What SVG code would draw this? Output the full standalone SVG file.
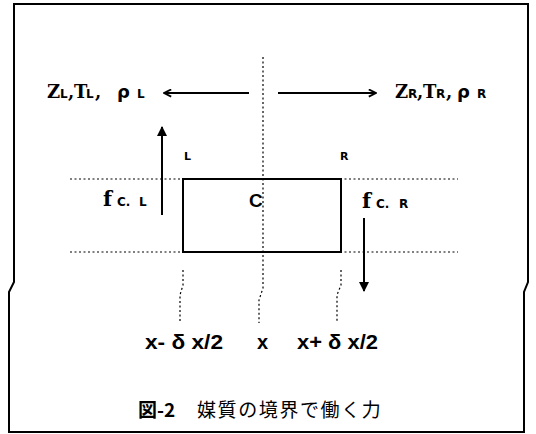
<svg xmlns="http://www.w3.org/2000/svg" width="536" height="434" viewBox="0 0 536 434">
<style>
.frame{fill:none;stroke:#000;stroke-width:2}
.dot{fill:none;stroke:#000;stroke-width:1.2;stroke-dasharray:2 2.5}
.solid{fill:none;stroke:#000;stroke-width:2}
.serif{font-family:"DejaVu Serif","Liberation Serif",serif;font-weight:bold;fill:#000}
.sub{font-family:"DejaVu Sans","Liberation Sans",sans-serif;font-weight:bold;fill:#000}
.sans{font-family:"Liberation Sans",Arial,sans-serif;font-weight:bold;fill:#000}
.greek{font-family:"DejaVu Sans",sans-serif;font-weight:bold;fill:#000}
.cap{font-family:"Noto Sans CJK JP","Noto Sans",sans-serif;fill:#000}
</style>
<defs>
<marker id="open" viewBox="0 0 10 10" refX="9" refY="5" markerWidth="9" markerHeight="9" markerUnits="userSpaceOnUse" orient="auto">
<path d="M1,1 L9,5 L1,9" fill="none" stroke="#000" stroke-width="2"/>
</marker>
<marker id="solidhead" viewBox="0 0 10 10" refX="9" refY="5" markerWidth="10" markerHeight="10" markerUnits="userSpaceOnUse" orient="auto">
<path d="M0,0 L10,5 L0,10 Z" fill="#000"/>
</marker>
</defs>
<path class="frame" d="M14,4 H528 V282 L524,292 V432 H9 V292 L14,282 Z"/>
<g id="connectors">
<line class="solid" x1="249" y1="93" x2="164" y2="93" marker-end="url(#open)"/>
<line class="solid" x1="278" y1="93" x2="376" y2="93" marker-end="url(#open)"/>
<line class="solid" x1="162" y1="215" x2="162" y2="127" marker-end="url(#solidhead)"/>
<line class="solid" x1="364" y1="218" x2="364" y2="291" marker-end="url(#solidhead)"/>
<path class="dot" d="M263,57 V288 L259,300 V323"/>
<line class="dot" x1="70" y1="179" x2="458" y2="179"/>
<line class="dot" x1="70" y1="252" x2="458" y2="252"/>
<path class="dot" d="M183,270 V285 L180,295 V323"/>
<path class="dot" d="M341,270 V285 L337,295 V323"/>
</g>
<g id="cell">
<rect class="solid" x="183" y="179" width="158" height="73" stroke-width="1.6"/>
<text x="249" y="207" font-size="19" font-family="Liberation Sans Narrow,Liberation Sans,sans-serif" font-weight="bold" fill="#000">C</text>
<text class="sub" x="184" y="160" font-size="11">L</text>
<text class="sub" x="340" y="160" font-size="11">R</text>
</g>
<g id="left-medium">
<text class="serif" y="98" font-size="18"><tspan x="47">Z</tspan><tspan class="sub" x="60" font-size="12">L</tspan><tspan x="68">,</tspan><tspan x="74">T</tspan><tspan class="sub" x="86" font-size="12">L</tspan><tspan x="95">,</tspan></text>
<text class="greek" x="117" y="98" font-size="18">ρ</text>
<text class="sub" x="137" y="98" font-size="12">L</text>
</g>
<g id="right-medium">
<text class="serif" y="98" font-size="18"><tspan x="395">Z</tspan><tspan class="sub" x="408" font-size="12">R</tspan><tspan x="417">,</tspan><tspan x="423">T</tspan><tspan class="sub" x="436" font-size="12">R</tspan><tspan x="446">,</tspan></text>
<text class="greek" x="457" y="98" font-size="18">ρ</text>
<text class="sub" x="477" y="98" font-size="12">R</text>
</g>
<g id="force-left">
<text class="serif" x="103" y="206" font-size="21">f</text>
<text class="sub" y="206" font-size="12"><tspan x="117">C.</tspan><tspan x="139">L</tspan></text>
</g>
<g id="force-right">
<text class="serif" x="362" y="208" font-size="21">f</text>
<text class="sub" y="208" font-size="12"><tspan x="376">C.</tspan><tspan x="399">R</tspan></text>
</g>
<g id="positions">
<text class="sans" x="145" y="349" font-size="20" textLength="78" lengthAdjust="spacingAndGlyphs">x- δ x/2</text>
<text class="sans" x="257" y="349" font-size="20">x</text>
<text class="sans" x="297" y="349" font-size="20" textLength="81" lengthAdjust="spacingAndGlyphs">x+ δ x/2</text>
</g>
<g id="caption">
<text class="cap" x="138" y="417" font-size="19" font-weight="bold">図-2</text>
<text class="cap" x="197" y="417" font-size="19" letter-spacing="1.6">媒質の境界で働く力</text>
</g>
</svg>
